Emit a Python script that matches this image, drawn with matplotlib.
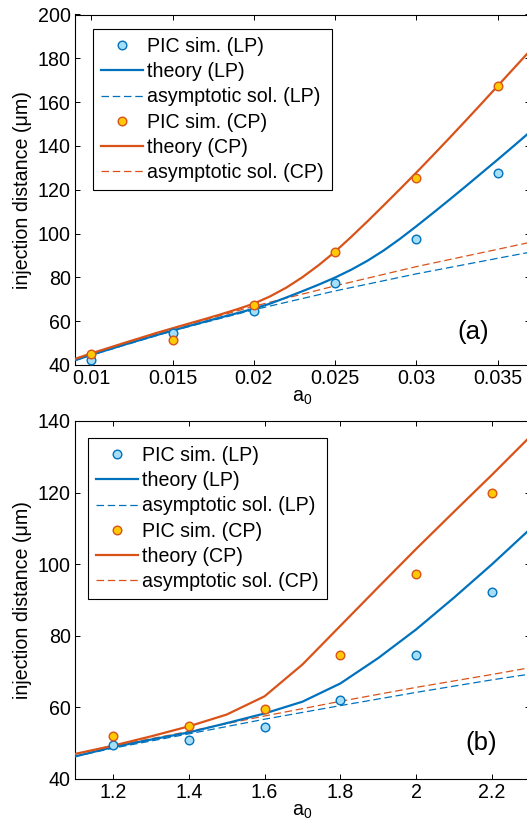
import matplotlib
matplotlib.use("Agg")
import matplotlib.pyplot as plt

plt.rcParams['font.family'] = ['Liberation Sans', 'DejaVu Sans']
plt.rcParams['mathtext.fontset'] = 'custom'
plt.rcParams['mathtext.rm'] = 'Liberation Sans'
plt.rcParams['mathtext.it'] = 'Liberation Sans:italic'

LP_COLOR = '#0072BD'
CP_COLOR = '#D95319'
LP_FACE = '#A6DDF7'
CP_FACE = '#FFC906'

# ---- panel (a): a0 small ----
a_pic = [0.010, 0.015, 0.020, 0.025, 0.030, 0.035]
a_pic_lp = [42.3, 54.8, 64.7, 77.3, 97.6, 127.8]
a_pic_cp = [44.9, 51.4, 67.3, 91.8, 125.2, 167.5]

a_th_x = [0.009, 0.010, 0.012, 0.014, 0.016, 0.017, 0.018, 0.019, 0.020,
          0.021, 0.022, 0.023, 0.024, 0.025, 0.026, 0.027, 0.028, 0.029,
          0.030, 0.031, 0.032, 0.033, 0.034, 0.035, 0.036, 0.037]
a_th_lp = [42.2, 44.6, 49.2, 53.6, 57.8, 59.8, 61.8, 63.7, 65.7,
           68.0, 70.8, 73.7, 76.7, 79.9, 83.5, 87.6, 92.3, 97.6,
           103.3, 109.2, 115.2, 121.3, 127.5, 133.7, 140.0, 146.4]
a_th_cp = [42.8, 45.3, 50.0, 54.6, 58.9, 61.0, 63.2, 65.5, 68.0,
           71.3, 75.3, 80.1, 85.6, 91.7, 98.5, 105.6, 112.9, 120.3,
           127.8, 135.5, 143.3, 151.2, 159.2, 167.3, 175.4, 183.5]

a_as_x = [0.009, 0.010, 0.015, 0.020, 0.025, 0.030, 0.035, 0.037]
a_as_lp = [42.0, 44.5, 55.6, 65.2, 73.8, 81.6, 88.7, 91.5]
a_as_cp = [42.5, 45.0, 56.5, 66.8, 76.1, 84.9, 92.8, 96.0]

a_xticks = [0.01, 0.015, 0.02, 0.025, 0.03, 0.035]
a_xticklabels = ['0.01', '0.015', '0.02', '0.025', '0.03', '0.035']
a_yticks = [40, 60, 80, 100, 120, 140, 160, 180, 200]

# ---- panel (b): a0 large ----
b_pic = [1.2, 1.4, 1.6, 1.8, 2.0, 2.2]
b_pic_lp = [49.6, 51.0, 54.5, 62.1, 74.7, 92.2]
b_pic_cp = [52.1, 54.9, 59.6, 74.7, 97.2, 119.9]

b_th_x = [1.1, 1.2, 1.3, 1.4, 1.5, 1.6, 1.7, 1.8, 1.9, 2.0, 2.1, 2.2, 2.3]
b_th_lp = [46.3, 48.9, 51.0, 53.0, 55.6, 58.3, 61.6, 66.7, 73.8, 81.8,
           90.7, 100.0, 109.8]
b_th_cp = [47.0, 49.3, 51.9, 54.7, 58.0, 63.1, 72.0, 82.8, 93.6, 104.3,
           114.7, 125.0, 135.6]

b_as_x = [1.1, 1.2, 1.4, 1.6, 1.8, 2.0, 2.2, 2.3]
b_as_lp = [46.3, 48.6, 52.6, 56.7, 60.5, 64.2, 67.7, 69.3]
b_as_cp = [47.0, 49.2, 53.3, 57.6, 61.7, 65.6, 69.2, 71.1]

b_xticks = [1.2, 1.4, 1.6, 1.8, 2.0, 2.2]
b_xticklabels = ['1.2', '1.4', '1.6', '1.8', '2', '2.2']
b_yticks = [40, 60, 80, 100, 120, 140]

FS = 14.1
W, H = 527, 827


def draw_panel(ax, pic_x, pic_lp, pic_cp, th_x, th_lp, th_cp, as_x, as_lp, as_cp):
    ax.plot(pic_x, pic_lp, 'o', ms=6.2, mfc=LP_FACE, mec=LP_COLOR, mew=1.0,
            label='PIC sim. (LP)', zorder=4)
    ax.plot(th_x, th_lp, '-', color=LP_COLOR, lw=1.6, label='theory (LP)', zorder=3)
    ax.plot(as_x, as_lp, '--', color=LP_COLOR, lw=0.9, dashes=(6, 3),
            label='asymptotic sol. (LP)', zorder=2)
    ax.plot(pic_x, pic_cp, 'o', ms=6.2, mfc=CP_FACE, mec=CP_COLOR, mew=1.0,
            label='PIC sim. (CP)', zorder=4)
    ax.plot(th_x, th_cp, '-', color=CP_COLOR, lw=1.6, label='theory (CP)', zorder=3)
    ax.plot(as_x, as_cp, '--', color=CP_COLOR, lw=0.9, dashes=(6, 3),
            label='asymptotic sol. (CP)', zorder=2)


def style_axes(ax, xticks, xlabels, yticks):
    ax.set_xticks(xticks)
    ax.set_xticklabels(xlabels)
    ax.set_yticks(yticks)
    ax.tick_params(direction='in', length=3.5, width=0.7, top=True, right=True,
                   labelsize=FS, pad=3)
    for s in ax.spines.values():
        s.set_linewidth(0.8)
    ax.set_xlabel(r'a$_\mathregular{0}$', fontsize=FS, labelpad=0)
    ax.set_ylabel('injection distance (\u03bcm)', fontsize=FS, labelpad=4)


fig = plt.figure(figsize=(W / 100, H / 100), dpi=100)

ax1 = fig.add_axes([75 / W, 1 - 365 / H, 455 / W, 350.5 / H])
draw_panel(ax1, a_pic, a_pic_lp, a_pic_cp, a_th_x, a_th_lp, a_th_cp,
           a_as_x, a_as_lp, a_as_cp)
ax1.set_xlim(0.009, 0.037)
ax1.set_ylim(40, 200)
style_axes(ax1, a_xticks, a_xticklabels, a_yticks)
ax1.text(0.875, 0.095, '(a)', transform=ax1.transAxes, fontsize=18.5,
         ha='center', va='center')

ax2 = fig.add_axes([75 / W, 1 - 779 / H, 455 / W, 358 / H])
draw_panel(ax2, b_pic, b_pic_lp, b_pic_cp, b_th_x, b_th_lp, b_th_cp,
           b_as_x, b_as_lp, b_as_cp)
ax2.set_xlim(1.1, 2.3)
ax2.set_ylim(40, 140)
style_axes(ax2, b_xticks, b_xticklabels, b_yticks)
ax2.text(0.892, 0.10, '(b)', transform=ax2.transAxes, fontsize=18.5,
         ha='center', va='center')

for ax, anchor in [(ax1, (18.4 / 455, 1 - 14.5 / 350.5)),
                   (ax2, (13.4 / 455, 1 - 17 / 358))]:
    leg = ax.legend(loc='upper left', bbox_to_anchor=anchor, borderaxespad=0,
                    fontsize=FS, handlelength=2.15, handletextpad=0.2,
                    borderpad=0.4, labelspacing=0.32, fancybox=False,
                    framealpha=1, edgecolor='black')
    leg.get_frame().set_linewidth(0.8)

fig.savefig('out.png', dpi=100)
